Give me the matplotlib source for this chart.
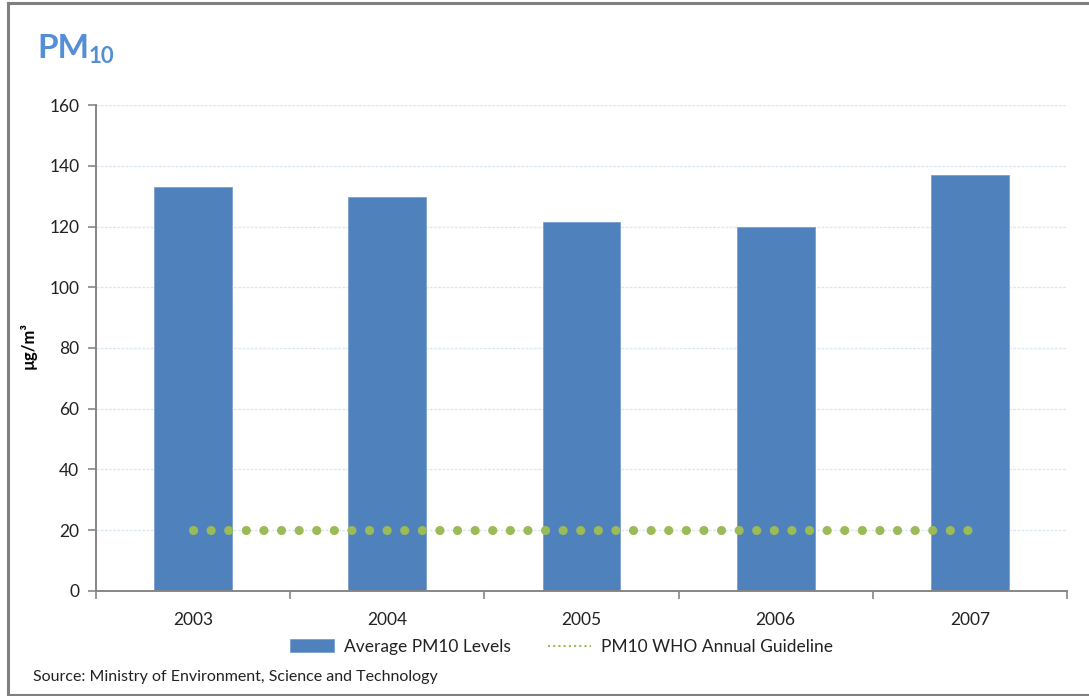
import matplotlib.pyplot as plt
from matplotlib.lines import Line2D
from matplotlib.patches import Patch

years = ['2003', '2004', '2005', '2006', '2007']
avg_pm10 = [133, 129.7, 121.5, 120, 137]
who_guideline = [20, 20, 20, 20, 20]
y_ticks = [0, 20, 40, 60, 80, 100, 120, 140, 160]

plt.rcParams['font.family'] = ['Lato', 'DejaVu Sans']

bar_color = '#4F81BD'
dot_color = '#9BBB59'
axis_grey = '#868686'
text_color = '#222222'

fig = plt.figure(figsize=(10.89, 6.96), dpi=100)
ax = fig.add_axes([0.0882, 0.1509, 0.8916, 0.6982])

x = list(range(len(years)))
ax.bar(x, avg_pm10, width=0.4, color=bar_color, edgecolor='#7A9FCF',
       linewidth=0.6, zorder=2)
ax.plot(x, who_guideline, color=dot_color, linestyle=(0, (0.01, 1.91)),
        linewidth=6.6, dash_capstyle='round', zorder=3)

ax.set_xlim(-0.5, len(years) - 0.5)
ax.set_ylim(0, 160)
ax.set_yticks(y_ticks)
ax.set_xticks(x)
ax.set_xticklabels(years, fontsize=12.5)
ax.set_xticks([i - 0.5 for i in range(len(years) + 1)], minor=True)
ax.tick_params(axis='x', which='major', length=0, pad=15, colors=text_color)
ax.tick_params(axis='x', which='minor', length=6, color=axis_grey, width=1.2)
ax.tick_params(axis='y', length=6, color=axis_grey, width=1.2, labelsize=12.5,
               labelcolor=text_color, pad=6)

for side in ('top', 'right'):
    ax.spines[side].set_visible(False)
for side in ('left', 'bottom'):
    ax.spines[side].set_color(axis_grey)
    ax.spines[side].set_linewidth(1.4)

ax.yaxis.grid(True, color='#DCE6F1', linestyle=(0, (2, 1)), linewidth=1)
ax.set_axisbelow(True)

ax.set_ylabel('µg/m³', fontsize=12, fontweight='bold')
ax.yaxis.set_label_coords(-0.061, 0.505)

handles = [
    Patch(facecolor=bar_color, edgecolor='#7A9FCF', linewidth=0.6),
    Line2D([0], [0], color=dot_color, linestyle=(0, (1, 1.5)), linewidth=1.5),
]
fig.legend(handles, ['Average PM10 Levels', 'PM10 WHO Annual Guideline'],
           loc='center', bbox_to_anchor=(0.516, 0.071), ncol=2, frameon=False,
           fontsize=12.5, handlelength=2.5, handleheight=0.7, columnspacing=2.1,
           handletextpad=0.6, labelcolor=text_color)

# title with subscript
fig.text(0.034, 0.917, 'PM', fontsize=24, fontweight='bold', color='#558ED5',
         va='baseline')
fig.text(0.0815, 0.91, '10', fontsize=16, fontweight='bold', color='#558ED5',
         va='baseline')

fig.text(0.030, 0.027, 'Source: Ministry of Environment, Science and Technology',
         fontsize=11.5, color=text_color, va='center')

# outer frame
frame_kw = dict(color='#7F7F7F', linewidth=2.2, transform=fig.transFigure)
fig.add_artist(Line2D([0.0075, 0.0075], [0.002, 0.996], **frame_kw))
fig.add_artist(Line2D([0.0075, 1.0], [0.996, 0.996], **frame_kw))
fig.add_artist(Line2D([0.0075, 1.0], [0.002, 0.002], **frame_kw))

fig.savefig('out.png', dpi=100)
